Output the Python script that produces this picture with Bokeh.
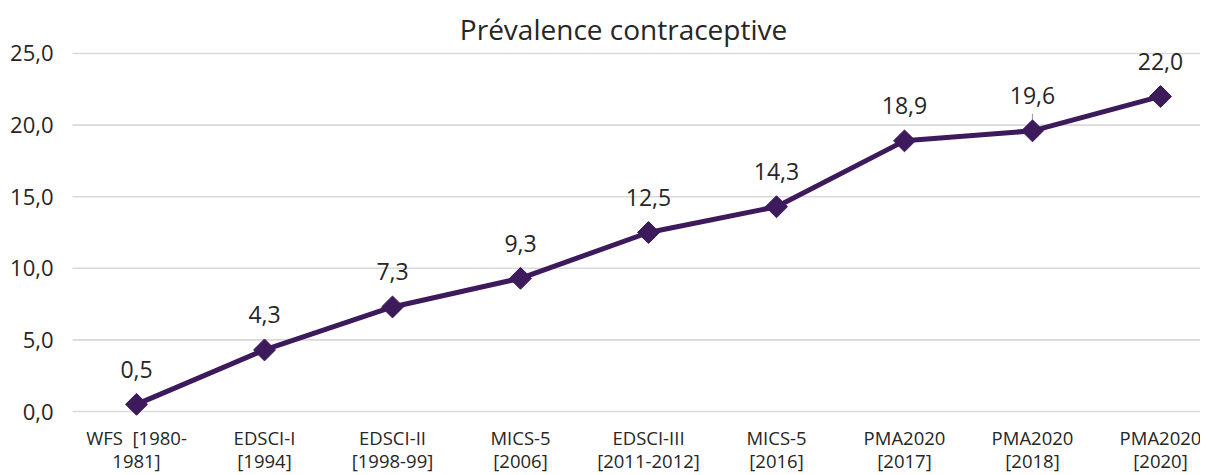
from bokeh.plotting import figure
from bokeh.models import ColumnDataSource, Range1d, FixedTicker, LabelSet
from bokeh.core.properties import value
from bokeh.embed import file_html
from bokeh.resources import INLINE

categories = ["WFS  [1980-\n1981]", "EDSCI-I\n[1994]", "EDSCI-II\n[1998-99]", "MICS-5\n[2006]",
              "EDSCI-III\n[2011-2012]", "MICS-5\n[2016]", "PMA2020\n[2017]", "PMA2020\n[2018]",
              "PMA2020\n[2020]"]
values = [0.5, 4.3, 7.3, 9.3, 12.5, 14.3, 18.9, 19.6, 22.0]
y_ticks = [0, 5, 10, 15, 20, 25]
title_text = "Prévalence contraceptive"

FONT = "Open Sans"
COLOR = "#3D1A5B"
TEXT = "#262626"
X_START, X_END = -0.6016, 8.3125

xs = list(range(len(categories)))
labels = [f"{v:.1f}".replace(".", ",") for v in values]
src = ColumnDataSource(dict(x=xs, y=values, lab=labels))
cat_src = ColumnDataSource(dict(x=xs, cat=[c.replace("  ", "\u00a0\u00a0") for c in categories]))
grid_src = ColumnDataSource(dict(y=y_ticks))

p = figure(width=1200, height=475, output_backend="svg", toolbar_location=None,
           x_range=Range1d(X_START, X_END), y_range=Range1d(-4.469, 28.701),
           min_border_left=59, min_border_right=0, min_border_top=0, min_border_bottom=0)
p.outline_line_color = None
p.background_fill_color = "white"
p.border_fill_color = "white"
p.grid.visible = False
p.xaxis.visible = False

p.yaxis.ticker = FixedTicker(ticks=y_ticks)
p.yaxis.major_label_overrides = {t: f"{t:.1f}".replace(".", ",") for t in y_ticks}
p.yaxis.axis_line_color = None
p.yaxis.major_tick_line_color = None
p.yaxis.minor_tick_line_color = None
p.yaxis.major_label_text_font = FONT
p.yaxis.major_label_text_font_size = "22px"
p.yaxis.major_label_text_color = TEXT
p.yaxis.major_label_standoff = 0

# horizontal gridlines (start at the category band edge)
p.segment(x0=-0.5, y0="y", x1=X_END, y1="y", source=grid_src, line_color="#D9D9D9", line_width=1.6)

# category labels under the axis
p.text(x="x", y=-0.95, text="cat", source=cat_src, text_align="center", text_baseline="top",
       text_font=value(FONT), text_font_size="18.5px", text_color=TEXT, text_line_height=0.93)

# title
p.text(x=[3.805], y=[26.68], text=[title_text], text_align="center", text_baseline="middle",
       text_font=value(FONT), text_font_size="28px", text_color=TEXT)

# leader line for 19,6
p.segment(x0=[7], y0=[19.6], x1=[7], y1=[20.8], line_color="#A6A6A6", line_width=1.2)

p.line("x", "y", source=src, line_color=COLOR, line_width=5)
p.scatter("x", "y", source=src, marker="square", angle=0.785398, size=15.5,
          fill_color=COLOR, line_color=COLOR)

p.add_layout(LabelSet(x="x", y="y", text="lab", source=src, text_align="center",
                      text_baseline="middle", y_offset=35, text_font=value(FONT),
                      text_font_size="23px", text_color=TEXT))

open("out.html", "w").write(file_html(p, INLINE))
